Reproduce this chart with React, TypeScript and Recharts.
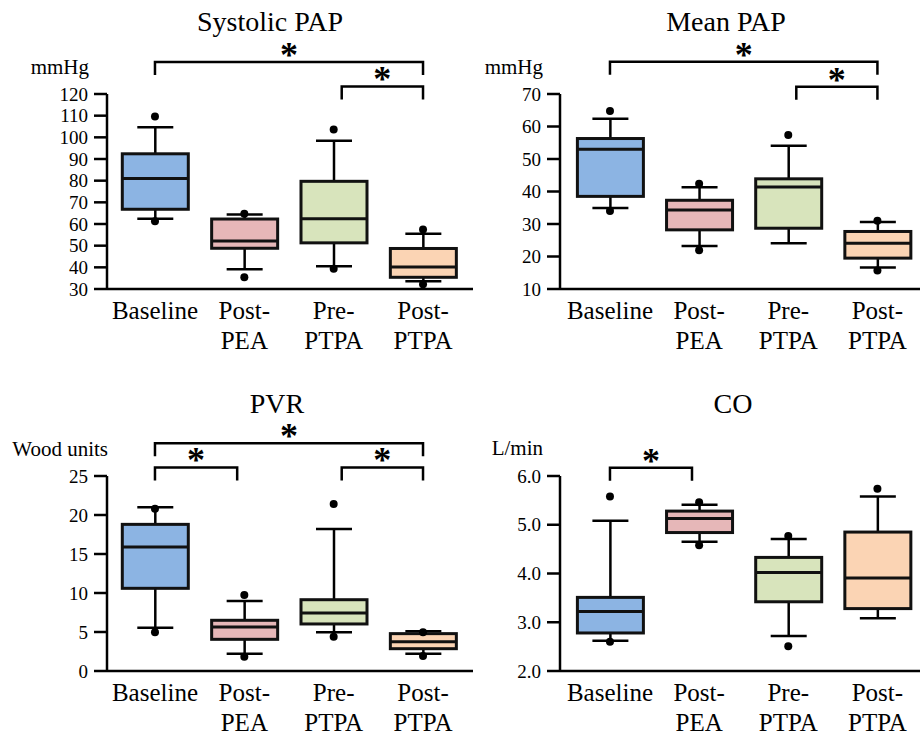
import React from 'react';
import { ComposedChart, Bar, Scatter, XAxis, YAxis, ReferenceLine } from 'recharts';

const SERIF = "'Liberation Serif', 'DejaVu Serif', 'Noto Serif', 'Times New Roman', Times, serif";

const categoryLines = [['Baseline'], ['Post-', 'PEA'], ['Pre-', 'PTPA'], ['Post-', 'PTPA']];
const boxColors = ['#8cb4e3', '#e6b7b8', '#d8e4bc', '#fbd4b4'];

// Systolic PAP (mmHg)
const sysMin = [62.4, 39.1, 40.5, 33.6];
const sysQ1 = [66.8, 48.8, 51.3, 35.4];
const sysMed = [81.0, 52.1, 62.4, 40.2];
const sysQ3 = [92.4, 62.3, 79.7, 48.7];
const sysMax = [104.7, 64.4, 98.4, 55.5];
const sysOutHi = [109.6, 64.7, 103.6, 57.5];
const sysOutLo = [61.3, 35.4, 39.3, 32.2];
const sysTicks = [30, 40, 50, 60, 70, 80, 90, 100, 110, 120];

// Mean PAP (mmHg)
const meanMin = [34.9, 23.2, 24.1, 16.6];
const meanQ1 = [38.5, 28.2, 28.7, 19.5];
const meanMed = [53.0, 34.3, 41.4, 24.1];
const meanQ3 = [56.3, 37.3, 43.9, 27.7];
const meanMax = [62.4, 41.3, 54.1, 30.6];
const meanOutHi = [64.8, 42.4, 57.4, 31.0];
const meanOutLo = [34.0, 21.9, null, 15.7];
const meanTicks = [10, 20, 30, 40, 50, 60, 70];

// PVR (Wood units)
const pvrMin = [5.55, 2.2, 4.96, 2.22];
const pvrQ1 = [10.6, 4.06, 6.03, 2.86];
const pvrMed = [15.9, 5.64, 7.44, 3.76];
const pvrQ3 = [18.8, 6.5, 9.14, 4.79];
const pvrMax = [21.0, 8.97, 18.2, 5.09];
const pvrOutHi = [20.8, 9.74, 21.4, 4.96];
const pvrOutLo = [4.96, 1.83, 4.4, 1.92];
const pvrTicks = [0, 5, 10, 15, 20, 25];

// CO (L/min)
const coMin = [2.62, 4.65, 2.72, 3.08];
const coQ1 = [2.78, 4.84, 3.42, 3.28];
const coMed = [3.22, 5.13, 4.02, 3.91];
const coQ3 = [3.51, 5.28, 4.33, 4.85];
const coMax = [5.08, 5.41, 4.71, 5.58];
const coOutHi = [5.58, 5.46, 4.77, 5.74];
const coOutLo = [2.6, 4.58, 2.51, null];
const coTicks = [2, 3, 4, 5, 6];

// significance brackets: category positions and height in data units
const sysBrackets = [{ from: 0, to: 3, level: 134.8 }, { from: 2.09, to: 3, level: 123.5 }];
const meanBrackets = [{ from: 0, to: 3, level: 79.9 }, { from: 2.09, to: 3, level: 72.2 }];
const pvrBrackets = [{ from: 0, to: 3, level: 29.2 }, { from: 0, to: 0.92, level: 26.1 }, { from: 2.09, to: 3, level: 26.1 }];
const coBrackets = [{ from: 0, to: 0.92, level: 6.17 }];

type Stats = { min: number[]; q1: number[]; med: number[]; q3: number[]; max: number[]; outHi: (number | null)[]; outLo: (number | null)[] };

const buildRows = (s: Stats) =>
  s.min.map((_, i) => ({
    x: i,
    range: [s.min[i], s.max[i]],
    min: s.min[i], q1: s.q1[i], med: s.med[i], q3: s.q3[i], max: s.max[i],
    fill: boxColors[i],
  }));

const buildOutliers = (s: Stats) =>
  [...s.outHi.map((v, i) => ({ x: i, y: v })), ...s.outLo.map((v, i) => ({ x: i, y: v }))].filter((p) => p.y != null);

const BoxShape = (props: any) => {
  const { x, y, width, height, payload } = props;
  if (!payload || height == null) return <g />;
  const top = Math.min(y, y + height);
  const h = Math.abs(height);
  const k = h / (payload.max - payload.min);
  const py = (v: number) => top + (payload.max - v) * k;
  const cx = x + width / 2;
  const cap = 18;
  return (
    <g>
      <line x1={cx} x2={cx} y1={py(payload.max)} y2={py(payload.min)} stroke="#000" strokeWidth={2.5} />
      <line x1={cx - cap} x2={cx + cap} y1={py(payload.max)} y2={py(payload.max)} stroke="#000" strokeWidth={2.5} />
      <line x1={cx - cap} x2={cx + cap} y1={py(payload.min)} y2={py(payload.min)} stroke="#000" strokeWidth={2.5} />
      <rect x={x} y={py(payload.q3)} width={width} height={py(payload.q1) - py(payload.q3)} fill={payload.fill} stroke="#111" strokeWidth={3} />
      <line x1={x} x2={x + width} y1={py(payload.med)} y2={py(payload.med)} stroke="#111" strokeWidth={3} />
    </g>
  );
};

const Dot = (p: any) => (p.cx == null || p.cy == null ? <g /> : <circle cx={p.cx} cy={p.cy} r={4} fill="#000" />);

const BracketShape = (p: any) => {
  const { x1, x2, y1 } = p;
  if (x1 == null || y1 == null) return <g />;
  const drop = 13;
  return (
    <g>
      <path d={`M${x1},${y1 + drop} L${x1},${y1} L${x2},${y1} L${x2},${y1 + drop}`} fill="none" stroke="#000" strokeWidth={2.5} />
      <text x={(x1 + x2) / 2} y={y1 + 5} textAnchor="middle" fontWeight="bold" fill="#000" style={{ fontFamily: SERIF, fontSize: 36 }}>*</text>
    </g>
  );
};

const CategoryTick = ({ x, y, payload }: any) => {
  const lines = categoryLines[payload.value] ?? [];
  return (
    <text x={x} y={y} textAnchor="middle" fill="#000" style={{ fontFamily: SERIF, fontSize: 25 }}>
      {lines.map((l, i) => (
        <tspan key={i} x={x} dy={i === 0 ? 29.5 : 30}>{l}</tspan>
      ))}
    </text>
  );
};

type PanelProps = {
  stats: Stats;
  domain: [number, number];
  ticks: number[];
  brackets: { from: number; to: number; level: number }[];
  fmt?: (v: number) => string;
  layout: { left: number; top: number; width: number; height: number; marginTop: number; yWidth: number; padLeft: number; padRight: number; xHeight: number };
};

function BoxPanel({ stats, domain, ticks, brackets, fmt, layout }: PanelProps) {
  const rows = buildRows(stats);
  const outliers = buildOutliers(stats);
  return (
    <div style={{ position: 'absolute', left: layout.left, top: layout.top }}>
      <ComposedChart width={layout.width} height={layout.height} data={rows} margin={{ top: layout.marginTop, right: 0, left: 0, bottom: 0 }}>
        <XAxis
          type="number"
          dataKey="x"
          domain={[-0.5, 3.5]}
          ticks={[0, 1, 2, 3]}
          interval={0}
          tick={<CategoryTick />}
          tickLine={false}
          tickSize={0}
          tickMargin={0}
          padding={{ left: layout.padLeft, right: layout.padRight }}
          height={layout.xHeight}
          axisLine={{ stroke: '#000', strokeWidth: 2.5 }}
        />
        <YAxis
          type="number"
          domain={domain}
          ticks={ticks}
          interval={0}
          allowDataOverflow
          width={layout.yWidth}
          tickSize={13}
          tickMargin={6}
          tickFormatter={fmt}
          tick={{ fill: '#000', fontSize: 19, style: { fontFamily: SERIF } }}
          tickLine={{ stroke: '#000', strokeWidth: 2.5 }}
          axisLine={{ stroke: '#000', strokeWidth: 2.5 }}
        />
        <Bar dataKey="range" barSize={66} shape={<BoxShape />} isAnimationActive={false} />
        <Scatter data={outliers} dataKey="y" shape={<Dot />} isAnimationActive={false} />
        {brackets.map((b, i) => (
          <ReferenceLine
            key={i}
            segment={[{ x: b.from, y: b.level }, { x: b.to, y: b.level }]}
            ifOverflow="visible"
            stroke="#000"
            shape={(p: any) => <BracketShape {...p} />}
          />
        ))}
      </ComposedChart>
    </div>
  );
}

const leftCol = { width: 473, yWidth: 107, padLeft: 3.3, padRight: 5.3 };
const rightCol = { width: 462, yWidth: 100, padLeft: 5.4, padRight: 0 };

export default function App() {
  return (
    <div style={{ position: 'absolute', left: 0, top: 0, width: 920, height: 736, overflow: 'hidden', background: '#fff', fontFamily: SERIF }}>
      <BoxPanel
        stats={{ min: sysMin, q1: sysQ1, med: sysMed, q3: sysQ3, max: sysMax, outHi: sysOutHi, outLo: sysOutLo }}
        domain={[30, 120]}
        ticks={sysTicks}
        brackets={sysBrackets}
        layout={{ ...leftCol, left: 0, top: 0, height: 365, marginTop: 94, xHeight: 76 }}
      />
      <BoxPanel
        stats={{ min: meanMin, q1: meanQ1, med: meanMed, q3: meanQ3, max: meanMax, outHi: meanOutHi, outLo: meanOutLo }}
        domain={[10, 70]}
        ticks={meanTicks}
        brackets={meanBrackets}
        layout={{ ...rightCol, left: 460, top: 0, height: 365, marginTop: 94, xHeight: 76 }}
      />
      <BoxPanel
        stats={{ min: pvrMin, q1: pvrQ1, med: pvrMed, q3: pvrQ3, max: pvrMax, outHi: pvrOutHi, outLo: pvrOutLo }}
        domain={[0, 25]}
        ticks={pvrTicks}
        brackets={pvrBrackets}
        layout={{ ...leftCol, left: 0, top: 368, height: 368, marginTop: 108, xHeight: 65 }}
      />
      <BoxPanel
        stats={{ min: coMin, q1: coQ1, med: coMed, q3: coQ3, max: coMax, outHi: coOutHi, outLo: coOutLo }}
        domain={[2, 6]}
        ticks={coTicks}
        brackets={coBrackets}
        fmt={(v) => v.toFixed(1)}
        layout={{ ...rightCol, left: 460, top: 368, height: 368, marginTop: 108, xHeight: 65 }}
      />
      <svg width={920} height={736} style={{ position: 'absolute', left: 0, top: 0, pointerEvents: 'none', fontFamily: SERIF }}>
        <g fill="#000">
          <text x={270} y={31} fontSize={28} textAnchor="middle">Systolic PAP</text>
          <text x={726} y={31} fontSize={28} textAnchor="middle">Mean PAP</text>
          <text x={277} y={413} fontSize={28} textAnchor="middle">PVR</text>
          <text x={733} y={413} fontSize={28} textAnchor="middle">CO</text>
          <text x={89} y={74} fontSize={21} textAnchor="end">mmHg</text>
          <text x={543} y={74} fontSize={21} textAnchor="end">mmHg</text>
          <text x={108} y={456} fontSize={21} textAnchor="end">Wood units</text>
          <text x={543} y={455} fontSize={21} textAnchor="end">L/min</text>
        </g>
      </svg>
    </div>
  );
}
